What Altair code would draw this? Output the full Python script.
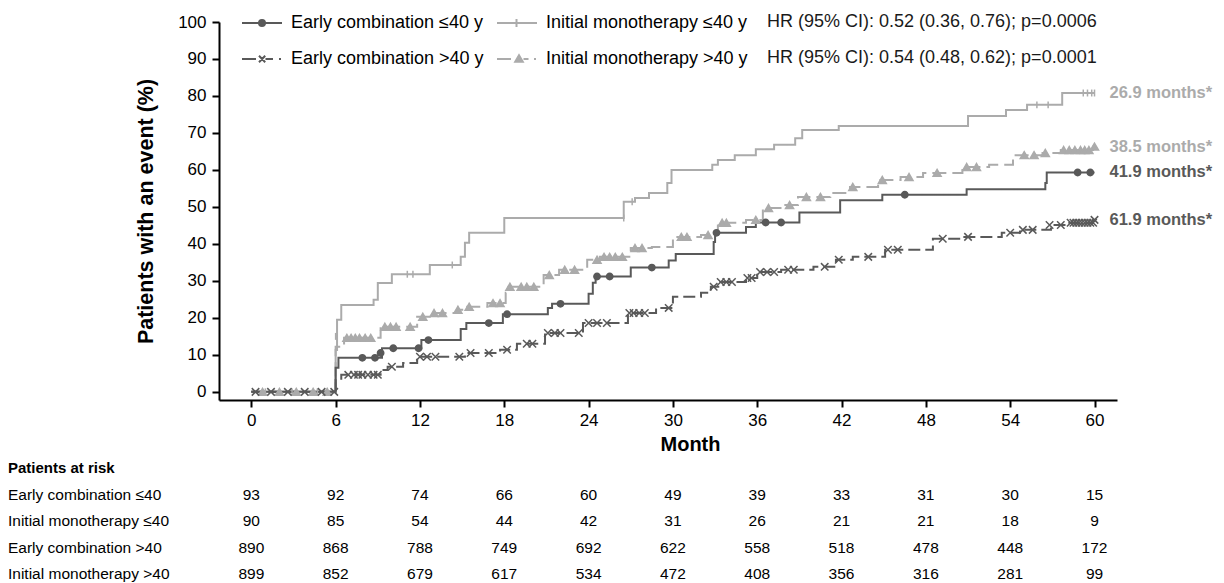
import altair as alt
import pandas as pd

FONT = "Liberation Sans"

# ---------------- series definitions ----------------
SERIES = ["Early combination ≤40 y", "Initial monotherapy ≤40 y",
          "Early combination >40 y", "Initial monotherapy >40 y"]
SERIES_COLORS = ["#595959", "#ababab", "#595959", "#ababab"]
SERIES_DASH = [[1, 0], [1, 0], [12, 5], [14, 6]]
MARKER_SHAPES = ["circle", "M0,-1L0,1", "M-1,-1L1,1M-1,1L1,-1", "triangle-up"]
MARKER_SIZES = [40, 64, 40, 50]
LEGEND_SHAPES = [
    "M-2,0L2,0M0.3,0A0.3,0.3,0,1,1,-0.3,0A0.3,0.3,0,1,1,0.3,0"
    "M0.12,0A0.12,0.12,0,1,1,-0.12,0A0.12,0.12,0,1,1,0.12,0",
    "M-2,0L2,0M-0.05,-0.4L-0.05,0.4",
    "M-2,0L-0.6,0M-0.3,-0.32L0.32,0.32M-0.3,0.32L0.32,-0.32M0.35,0L1.1,0M1.7,0L1.9,0",
    "M-2,0L-0.6,0M0.2,-0.38L0.58,0.28L-0.18,0.28ZM0.2,-0.12L0.36,0.16L0.04,0.16Z"
    "M0.65,0L1.15,0M1.7,0L1.9,0",
]

# ---------------- Kaplan-Meier style step curves (month, cumulative %) ----------------
ec_le40_month = [0, 6.0, 6.2, 9.3, 12.1, 14.9, 15.3, 17.9, 21.1, 21.4, 24.0, 24.3, 24.5, 27.0,
                 29.7, 30.2, 32.9, 33.0, 35.2, 35.9, 39.0, 41.9, 44.9, 50.9, 56.5, 56.6, 60.0]
ec_le40_pct = [0, 6.5, 9.2, 11.8, 14.0, 17.0, 18.6, 21.0, 22.7, 23.8, 26.5, 29.5, 31.2, 33.6,
               35.5, 37.3, 40.5, 43.0, 44.6, 45.8, 48.5, 51.8, 53.3, 54.8, 56.5, 59.3, 59.3]

im_le40_month = [0, 6.0, 6.1, 6.4, 8.7, 9.0, 10.0, 12.7, 14.9, 15.2, 15.5, 18.0, 26.5, 27.3,
                 28.3, 29.6, 29.9, 32.8, 33.2, 34.4, 35.9, 37.2, 38.7, 39.2, 41.8, 51.0, 53.7,
                 55.2, 57.7, 60.0]
im_le40_pct = [0, 11.3, 19.5, 23.5, 24.9, 29.4, 31.8, 34.3, 36.5, 40.3, 43.0, 47.0, 51.4, 52.4,
               53.8, 56.5, 60.0, 61.4, 62.7, 64.0, 65.6, 66.8, 68.6, 70.8, 71.9, 74.6, 76.2,
               77.6, 80.8, 80.8]

ec_gt40_month = [0, 6.0, 6.4, 9.2, 9.7, 10.8, 11.8, 15.2, 17.7, 18.9, 20.9, 23.6, 26.8, 28.8,
                 30.0, 32.0, 32.7, 33.3, 35.2, 36.0, 37.7, 40.0, 41.6, 42.8, 45.1, 48.5, 50.6,
                 53.4, 54.7, 56.9, 58.1, 59.9, 60.0]
ec_gt40_pct = [0, 3.2, 4.6, 5.9, 6.8, 7.8, 9.5, 10.5, 11.4, 13.0, 15.9, 18.6, 21.3, 22.7,
               25.7, 26.8, 28.4, 29.7, 30.8, 32.4, 33.0, 33.8, 35.7, 36.5, 38.4, 41.4, 41.9,
               43.0, 43.8, 45.1, 45.7, 46.5, 46.5]

im_gt40_month = [0, 6.0, 6.6, 9.2, 11.8, 12.7, 14.7, 15.1, 16.8, 18.1, 18.3, 20.8, 21.9, 23.9,
                 24.8, 27.0, 28.5, 30.0, 32.0, 33.2, 35.2, 36.4, 38.0, 38.9, 41.2, 42.6, 44.6,
                 46.2, 47.8, 50.6, 52.5, 54.2, 56.3, 57.6, 59.9, 60.0]
im_gt40_pct = [0, 12.2, 14.6, 17.6, 20.3, 21.3, 22.2, 23.0, 24.0, 26.8, 28.4, 31.6, 33.0, 35.7,
               36.5, 38.9, 39.2, 41.9, 42.4, 45.7, 46.5, 49.7, 50.5, 52.7, 53.8, 55.4, 57.3,
               58.1, 59.2, 60.8, 61.4, 64.0, 64.6, 65.4, 66.3, 66.3]

# ---------------- censoring marks ----------------
ec_le40_cens_month = [7.9, 8.8, 9.2, 10.1, 11.9, 12.6, 16.9, 18.2, 22.0, 24.6, 25.5, 28.5,
                      33.1, 36.6, 37.7, 46.5, 58.8, 59.7]
ec_le40_cens_pct = [9.2, 9.2, 10.5, 11.8, 11.8, 14.0, 18.6, 21.0, 23.8, 31.2, 31.2, 33.6,
                    43.0, 45.8, 45.8, 53.3, 59.3, 59.3]

im_le40_cens_month = [1.0, 2.9, 4.7, 6.0, 11.1, 11.5, 14.3, 26.5, 27.1, 55.9, 56.7, 59.2,
                      59.5, 59.8, 60.0]
im_le40_cens_pct = [0, 0, 0, 15.0, 31.8, 31.8, 34.3, 47.0, 51.4, 77.6, 77.6, 80.8,
                    80.8, 80.8, 80.8]

ec_gt40_cens_month = [0.3, 1.4, 2.6, 3.8, 5.0, 5.9, 6.9, 7.3, 7.6, 7.9, 8.3, 8.7, 9.0, 10.0,
                      12.0, 12.5, 13.1, 14.8, 15.6, 16.9, 18.2, 19.6, 20.0, 21.1, 21.6, 22.0,
                      23.3, 24.0, 24.6, 25.3, 26.9, 27.2, 27.6, 28.0, 29.7, 32.9, 33.4, 33.8,
                      34.2, 35.3, 35.6, 36.2, 36.7, 37.2, 38.2, 38.6, 40.8, 41.8, 43.9, 45.3,
                      46.0, 49.2, 51.0, 54.0, 54.9, 55.6, 56.8, 57.6, 58.3, 58.5, 58.7, 58.9,
                      59.1, 59.3, 59.5, 59.7, 59.9, 60.0]
ec_gt40_cens_pct = [0, 0, 0, 0, 0, 0, 4.6, 4.6, 4.6, 4.6, 4.6, 4.6, 4.6, 6.8,
                    9.5, 9.5, 9.5, 9.5, 10.5, 10.5, 11.4, 13.0, 13.0, 15.9, 15.9, 15.9,
                    15.9, 18.6, 18.6, 18.6, 21.3, 21.3, 21.3, 21.3, 22.7, 28.4, 29.7, 29.7,
                    29.7, 30.8, 30.8, 32.4, 32.4, 32.4, 33.0, 33.0, 33.8, 35.7, 36.5, 38.4,
                    38.4, 41.4, 41.9, 43.0, 43.8, 43.8, 45.1, 45.1, 45.7, 45.7, 45.7, 45.7,
                    45.7, 45.7, 45.7, 45.7, 45.7, 46.5]

im_gt40_cens_month = [0.8, 2.0, 3.2, 4.4, 5.4, 6.8, 7.1, 7.4, 7.7, 8.1, 8.5, 9.5, 9.9, 10.3,
                      11.3, 12.2, 13.0, 13.6, 14.7, 15.5, 17.2, 17.7, 18.4, 19.2, 19.6, 20.1,
                      21.2, 22.3, 23.0, 24.6, 25.1, 25.5, 25.9, 26.4, 27.3, 27.8, 30.6, 31.0,
                      32.5, 33.5, 33.8, 35.9, 36.8, 38.3, 39.5, 40.5, 42.8, 44.9, 46.8, 48.8,
                      50.9, 51.6, 55.0, 55.7, 56.5, 57.8, 58.2, 58.6, 59.0, 59.3, 59.6, 60.0]
im_gt40_cens_pct = [0, 0, 0, 0, 0, 14.6, 14.6, 14.6, 14.6, 14.6, 14.6, 17.6, 17.6, 17.6,
                    17.6, 20.3, 21.3, 21.3, 22.2, 23.0, 24.0, 24.0, 28.4, 28.4, 28.4, 28.4,
                    31.6, 33.0, 33.0, 35.7, 36.5, 36.5, 36.5, 36.5, 38.9, 38.9, 41.9, 41.9,
                    42.4, 45.7, 45.7, 46.5, 49.7, 50.5, 52.7, 52.7, 55.4, 57.3, 58.1, 59.2,
                    60.8, 60.8, 64.0, 64.0, 64.6, 65.4, 65.4, 65.4, 65.4, 65.4, 65.4, 66.3]

# ---------------- annotations ----------------
END_LABEL_MONTH = 60
end_labels = ["41.9 months*", "26.9 months*", "61.9 months*", "38.5 months*"]
end_label_pct = [59.5, 80.8, 46.5, 66.2]
hr_texts = ["HR (95% CI): 0.52 (0.36, 0.76); p=0.0006",
            "HR (95% CI): 0.54 (0.48, 0.62); p=0.0001"]

# ---------------- patients at risk ----------------
risk_header = "Patients at risk"
risk_rows = ["Early combination ≤40", "Initial monotherapy ≤40",
             "Early combination >40", "Initial monotherapy >40"]
risk_months = [0, 6, 12, 18, 24, 30, 36, 42, 48, 54, 60]
risk_ec_le40 = [93, 92, 74, 66, 60, 49, 39, 33, 31, 30, 15]
risk_im_le40 = [90, 85, 54, 44, 42, 31, 26, 21, 21, 18, 9]
risk_ec_gt40 = [890, 868, 788, 749, 692, 622, 558, 518, 478, 448, 172]
risk_im_gt40 = [899, 852, 679, 617, 534, 472, 408, 356, 316, 281, 99]

month_ticks = [0, 6, 12, 18, 24, 30, 36, 42, 48, 54, 60]
pct_ticks = [0, 10, 20, 30, 40, 50, 60, 70, 80, 90, 100]

# ---------------- tables ----------------
def frame(name, months, pcts):
    return pd.DataFrame({"series": name, "month": months, "pct": pcts})

lines_df = pd.concat([
    frame(SERIES[1], im_le40_month, im_le40_pct),
    frame(SERIES[3], im_gt40_month, im_gt40_pct),
    frame(SERIES[2], ec_gt40_month, ec_gt40_pct),
    frame(SERIES[0], ec_le40_month, ec_le40_pct),
], ignore_index=True)

cens_df = pd.concat([
    frame(SERIES[1], im_le40_cens_month, im_le40_cens_pct),
    frame(SERIES[3], im_gt40_cens_month, im_gt40_cens_pct),
    frame(SERIES[2], ec_gt40_cens_month, ec_gt40_cens_pct),
    frame(SERIES[0], ec_le40_cens_month, ec_le40_cens_pct),
], ignore_index=True)

end_df = pd.DataFrame({"series": SERIES, "label": end_labels,
                       "month": [END_LABEL_MONTH] * len(SERIES), "pct": end_label_pct})

risk_df = pd.concat([
    pd.DataFrame({"row": risk_rows[0], "month": risk_months, "n": risk_ec_le40}),
    pd.DataFrame({"row": risk_rows[1], "month": risk_months, "n": risk_im_le40}),
    pd.DataFrame({"row": risk_rows[2], "month": risk_months, "n": risk_ec_gt40}),
    pd.DataFrame({"row": risk_rows[3], "month": risk_months, "n": risk_im_gt40}),
], ignore_index=True)

TABLE_DOMAIN = [risk_header] + risk_rows

# ---------------- scales & axes ----------------
x_scale = alt.Scale(domain=[-2.3, 61.6], nice=False, zero=False)
y_scale = alt.Scale(domain=[-2.2, 100], nice=False, zero=False)
col_scale = alt.Scale(domain=SERIES, range=SERIES_COLORS)
table_y = alt.Scale(domain=TABLE_DOMAIN, range=[446, 552], padding=0)

x_axis = alt.Axis(values=month_ticks, tickCount=11, title="Month", titleX=471, titleY=44,
                  titleBaseline="middle", titleAlign="center", labelPadding=5,
                  labelOverlap=False)
y_axis = alt.Axis(values=pct_ticks, tickCount=11, title="Patients with an event (%)",
                  titleX=-73, titleY=189, titleBaseline="middle", titleAlign="center",
                  labelPadding=6, labelOverlap=False, titleFontSize=21.5)

X = alt.X("month:Q", scale=x_scale, axis=x_axis)
Y = alt.Y("pct:Q", scale=y_scale, axis=y_axis)

lines = alt.Chart(lines_df).mark_line(interpolate="step-after", strokeWidth=2).encode(
    x=X, y=Y,
    color=alt.Color("series:N", scale=col_scale, legend=None),
    strokeDash=alt.StrokeDash("series:N", scale=alt.Scale(domain=SERIES, range=SERIES_DASH),
                              legend=None),
    order="month:Q",
)

marks = alt.Chart(cens_df).mark_point(filled=True, opacity=1, strokeWidth=1.5).encode(
    x=X, y=Y,
    shape=alt.Shape("series:N", scale=alt.Scale(domain=SERIES, range=MARKER_SHAPES), legend=None),
    fill=alt.Fill("series:N", scale=col_scale, legend=None),
    stroke=alt.Stroke("series:N", scale=col_scale, legend=None),
    size=alt.Size("series:N", scale=alt.Scale(domain=SERIES, range=MARKER_SIZES), legend=None),
)

ends = alt.Chart(end_df).mark_text(align="left", baseline="middle", dx=15, font=FONT,
                                   fontSize=16.5, fontWeight="bold").encode(
    x=X, y=Y,
    text="label:N",
    color=alt.Color("series:N", scale=col_scale, legend=None),
)

main = alt.layer(lines, marks, ends)

legend_def = alt.Legend(
    title=None, orient="none", legendX=22, legendY=-10, direction="horizontal", columns=2,
    symbolSize=400, symbolStrokeWidth=2, symbolOffset=10, labelOffset=18,
    labelFont=FONT, labelFontSize=18, labelColor="black", labelLimit=400,
    rowPadding=16, columnPadding=9, padding=0, offset=0,
)
legend_layer = alt.Chart(pd.DataFrame({"series": SERIES})).mark_point(
    filled=False, opacity=1, strokeWidth=2).encode(
    shape=alt.Shape("series:N", scale=alt.Scale(domain=SERIES, range=LEGEND_SHAPES),
                    legend=legend_def),
    color=alt.Color("series:N", scale=col_scale, legend=legend_def),
).transform_filter("datum.series == 'none'")

hr1 = alt.Chart(pd.DataFrame({"t": [hr_texts[0]]})).mark_text(
    align="left", baseline="middle", font=FONT, fontSize=18, color="#1a1a1a").encode(
    x=alt.value(548), y=alt.value(0), text="t:N")
hr2 = alt.Chart(pd.DataFrame({"t": [hr_texts[1]]})).mark_text(
    align="left", baseline="middle", font=FONT, fontSize=18, color="#1a1a1a").encode(
    x=alt.value(548), y=alt.value(36), text="t:N")

risk_nums = alt.Chart(risk_df).mark_text(baseline="middle", font=FONT, fontSize=15.5,
                                         color="black").encode(
    x=X,
    y=alt.Y("row:N", scale=table_y, axis=None),
    text=alt.Text("n:Q", format="d"),
)
risk_labels = alt.Chart(pd.DataFrame({"row": risk_rows})).mark_text(
    align="left", baseline="middle", font=FONT, fontSize=15.5, color="black").encode(
    x=alt.value(-211),
    y=alt.Y("row:N", scale=table_y, axis=None),
    text="row:N",
)
risk_title = alt.Chart(pd.DataFrame({"row": [risk_header]})).mark_text(
    align="left", baseline="middle", font=FONT, fontSize=15, fontWeight="bold",
    color="black").encode(
    x=alt.value(-211),
    y=alt.Y("row:N", scale=table_y, axis=None),
    text="row:N",
)

chart = alt.layer(
    main, legend_layer, hr1, hr2, risk_nums, risk_labels, risk_title
).resolve_scale(
    y="independent", color="independent", shape="independent"
).properties(
    width=898, height=378,
    autosize=alt.AutoSizeParams(type="none"),
    padding={"left": 211, "top": 14, "right": 98, "bottom": 183},
).configure_view(
    stroke=None
).configure_axis(
    domainColor="black", domainWidth=2, tickColor="black", tickWidth=2, tickSize=7,
    labelColor="black", labelFont=FONT, labelFontSize=17, titleFont=FONT,
    titleFontSize=20, titleFontWeight="bold", titleColor="black", grid=False,
)

chart.save("out.html", embed_options={"renderer": "svg", "actions": False})
